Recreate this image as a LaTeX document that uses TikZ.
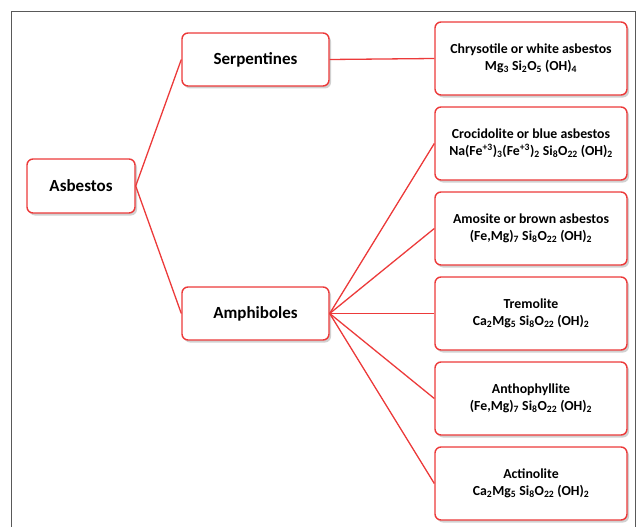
\documentclass[tikz,border=0pt]{standalone}
\usepackage{fontspec}
\setmainfont{Carlito}
\usetikzlibrary{shadows}
\definecolor{boxred}{RGB}{236,58,58}
\tikzset{
  box/.style={draw=boxred, line width=1.4pt, rounded corners=6pt, fill=white, align=center,
    font=\bfseries\fontsize{13.8}{17}\selectfont, inner sep=0pt,
    drop shadow={shadow xshift=2pt, shadow yshift=-2.5pt, opacity=0.3, fill=black!60}},
  bigbox/.style={box, font=\bfseries\fontsize{17}{20}\selectfont},
  link/.style={draw=boxred, line width=1.3pt}
}
\newcommand{\sbs}[1]{\textsubscript{#1}}
\newcommand{\sps}[1]{\textsuperscript{#1}}
\begin{document}
\begin{tikzpicture}[x=1pt,y=-1pt]
\useasboundingbox (0,0) rectangle (640,527);
\draw[gray!70!black, line width=0.8pt] (11,527) -- (11,11) -- (635,11) -- (635,527);
\node[bigbox, minimum width=108pt, minimum height=54pt] (asb) at (81,186) {Asbestos};
\node[bigbox, minimum width=147pt, minimum height=53pt] (ser) at (255.5,59.5) {Serpentines};
\node[bigbox, minimum width=147pt, minimum height=53pt] (amp) at (255.5,313.5) {Amphiboles};
\node[box, minimum width=192pt, minimum height=73pt] (chr) at (531,58.5) {Chrysotile or white asbestos\\Mg\sbs{3} Si\sbs{2}O\sbs{5} (OH)\sbs{4}};
\node[box, minimum width=192pt, minimum height=73pt] (cro) at (531,143.5) {Crocidolite or blue asbestos\\Na(Fe\sps{+3})\sbs{3}(Fe\sps{+3})\sbs{2} Si\sbs{8}O\sbs{22} (OH)\sbs{2}};
\node[box, minimum width=192pt, minimum height=73pt] (amo) at (531,228.5) {Amosite or brown asbestos\\(Fe,Mg)\sbs{7} Si\sbs{8}O\sbs{22} (OH)\sbs{2}};
\node[box, minimum width=192pt, minimum height=73pt] (tre) at (531,313.5) {Tremolite\\Ca\sbs{2}Mg\sbs{5} Si\sbs{8}O\sbs{22} (OH)\sbs{2}};
\node[box, minimum width=192pt, minimum height=73pt] (ant) at (531,398.5) {Anthophyllite\\(Fe,Mg)\sbs{7} Si\sbs{8}O\sbs{22} (OH)\sbs{2}};
\node[box, minimum width=192pt, minimum height=73pt] (act) at (531,483.5) {Actinolite\\Ca\sbs{2}Mg\sbs{5} Si\sbs{8}O\sbs{22} (OH)\sbs{2}};
\begin{scope}[link]
\draw (asb.east) -- (ser.west);
\draw (asb.east) -- (amp.west);
\draw (ser.east) -- (chr.west);
\foreach \t in {cro,amo,tre,ant,act} \draw (amp.east) -- (\t.west);
\end{scope}
\end{tikzpicture}
\end{document}
